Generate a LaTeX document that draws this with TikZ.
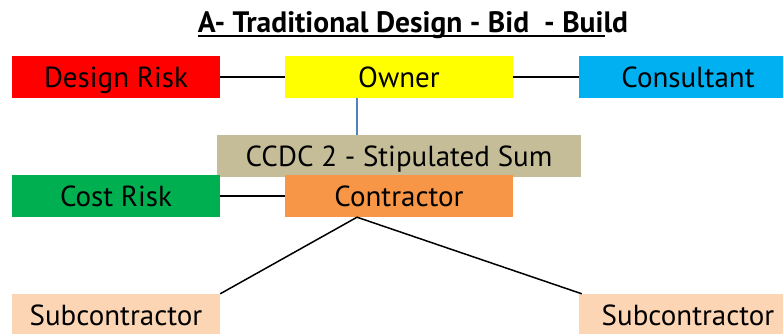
\documentclass[tikz,border=0pt]{standalone}
\usepackage{fontspec}
\setmainfont{PT Sans}
\definecolor{riskred}{HTML}{FF0000}
\definecolor{ownyellow}{HTML}{FFFF00}
\definecolor{consblue}{HTML}{00B0F0}
\definecolor{ccdctan}{HTML}{C4BD97}
\definecolor{costgreen}{HTML}{00B050}
\definecolor{contorange}{HTML}{F79646}
\definecolor{subpeach}{HTML}{FCD5B5}
\definecolor{linkblue}{HTML}{4F81BD}
\begin{document}
\begin{tikzpicture}[x=1pt,y=-1pt,
  box/.style={rectangle, inner sep=0pt, minimum height=42pt,
    text height=20pt, text depth=0pt, font=\fontsize{29}{32}\selectfont},
  link/.style={line width=1.5pt, black}]
\useasboundingbox (0,0) rectangle (783,333);
\fill[white] (0,0) rectangle (783,333);

% title
\node[font=\bfseries\fontsize{29.5}{32}\selectfont, inner sep=0pt, anchor=base]
  (title) at (413,32) {A- Traditional Design - Bid\ \ - Build};
\draw[line width=2pt] ([yshift=-3.5pt]title.base west) -- ([yshift=-3.5pt,xshift=-23pt]title.base east);

% boxes
\node[box, fill=riskred, minimum width=208pt] (dr) at (116,77) {Design Risk};
\node[box, fill=ownyellow, minimum width=228pt] (ow) at (399,77) {Owner};
\node[box, fill=consblue, minimum width=218pt] (co) at (688,77) {Consultant};
\node[box, fill=ccdctan, minimum width=364pt] (cc) at (399,156) {CCDC 2 - Stipulated Sum};
\node[box, fill=costgreen, minimum width=208pt] (cr) at (116,196) {Cost Risk};
\node[box, fill=contorange, minimum width=228pt] (ct) at (399,196) {Contractor};
\node[box, fill=subpeach, minimum width=208pt] (sl) at (116,315) {Subcontractor};
\node[box, fill=subpeach, minimum width=218pt] (sr) at (688,315) {Subcontractor};

% connectors
\draw[link] (dr) -- (ow);
\draw[link] (ow) -- (co);
\draw[line width=1.5pt, linkblue] ([xshift=-42pt]ow.south) -- ([xshift=-42pt]ow.south |- cc.north);
\draw[link] (cr) -- (ct);
\draw[link] ([xshift=-42pt]ct.south) -- (sl.north east);
\draw[link] ([xshift=-42pt]ct.south) -- ([xshift=3pt]sr.north west);
\end{tikzpicture}
\end{document}
